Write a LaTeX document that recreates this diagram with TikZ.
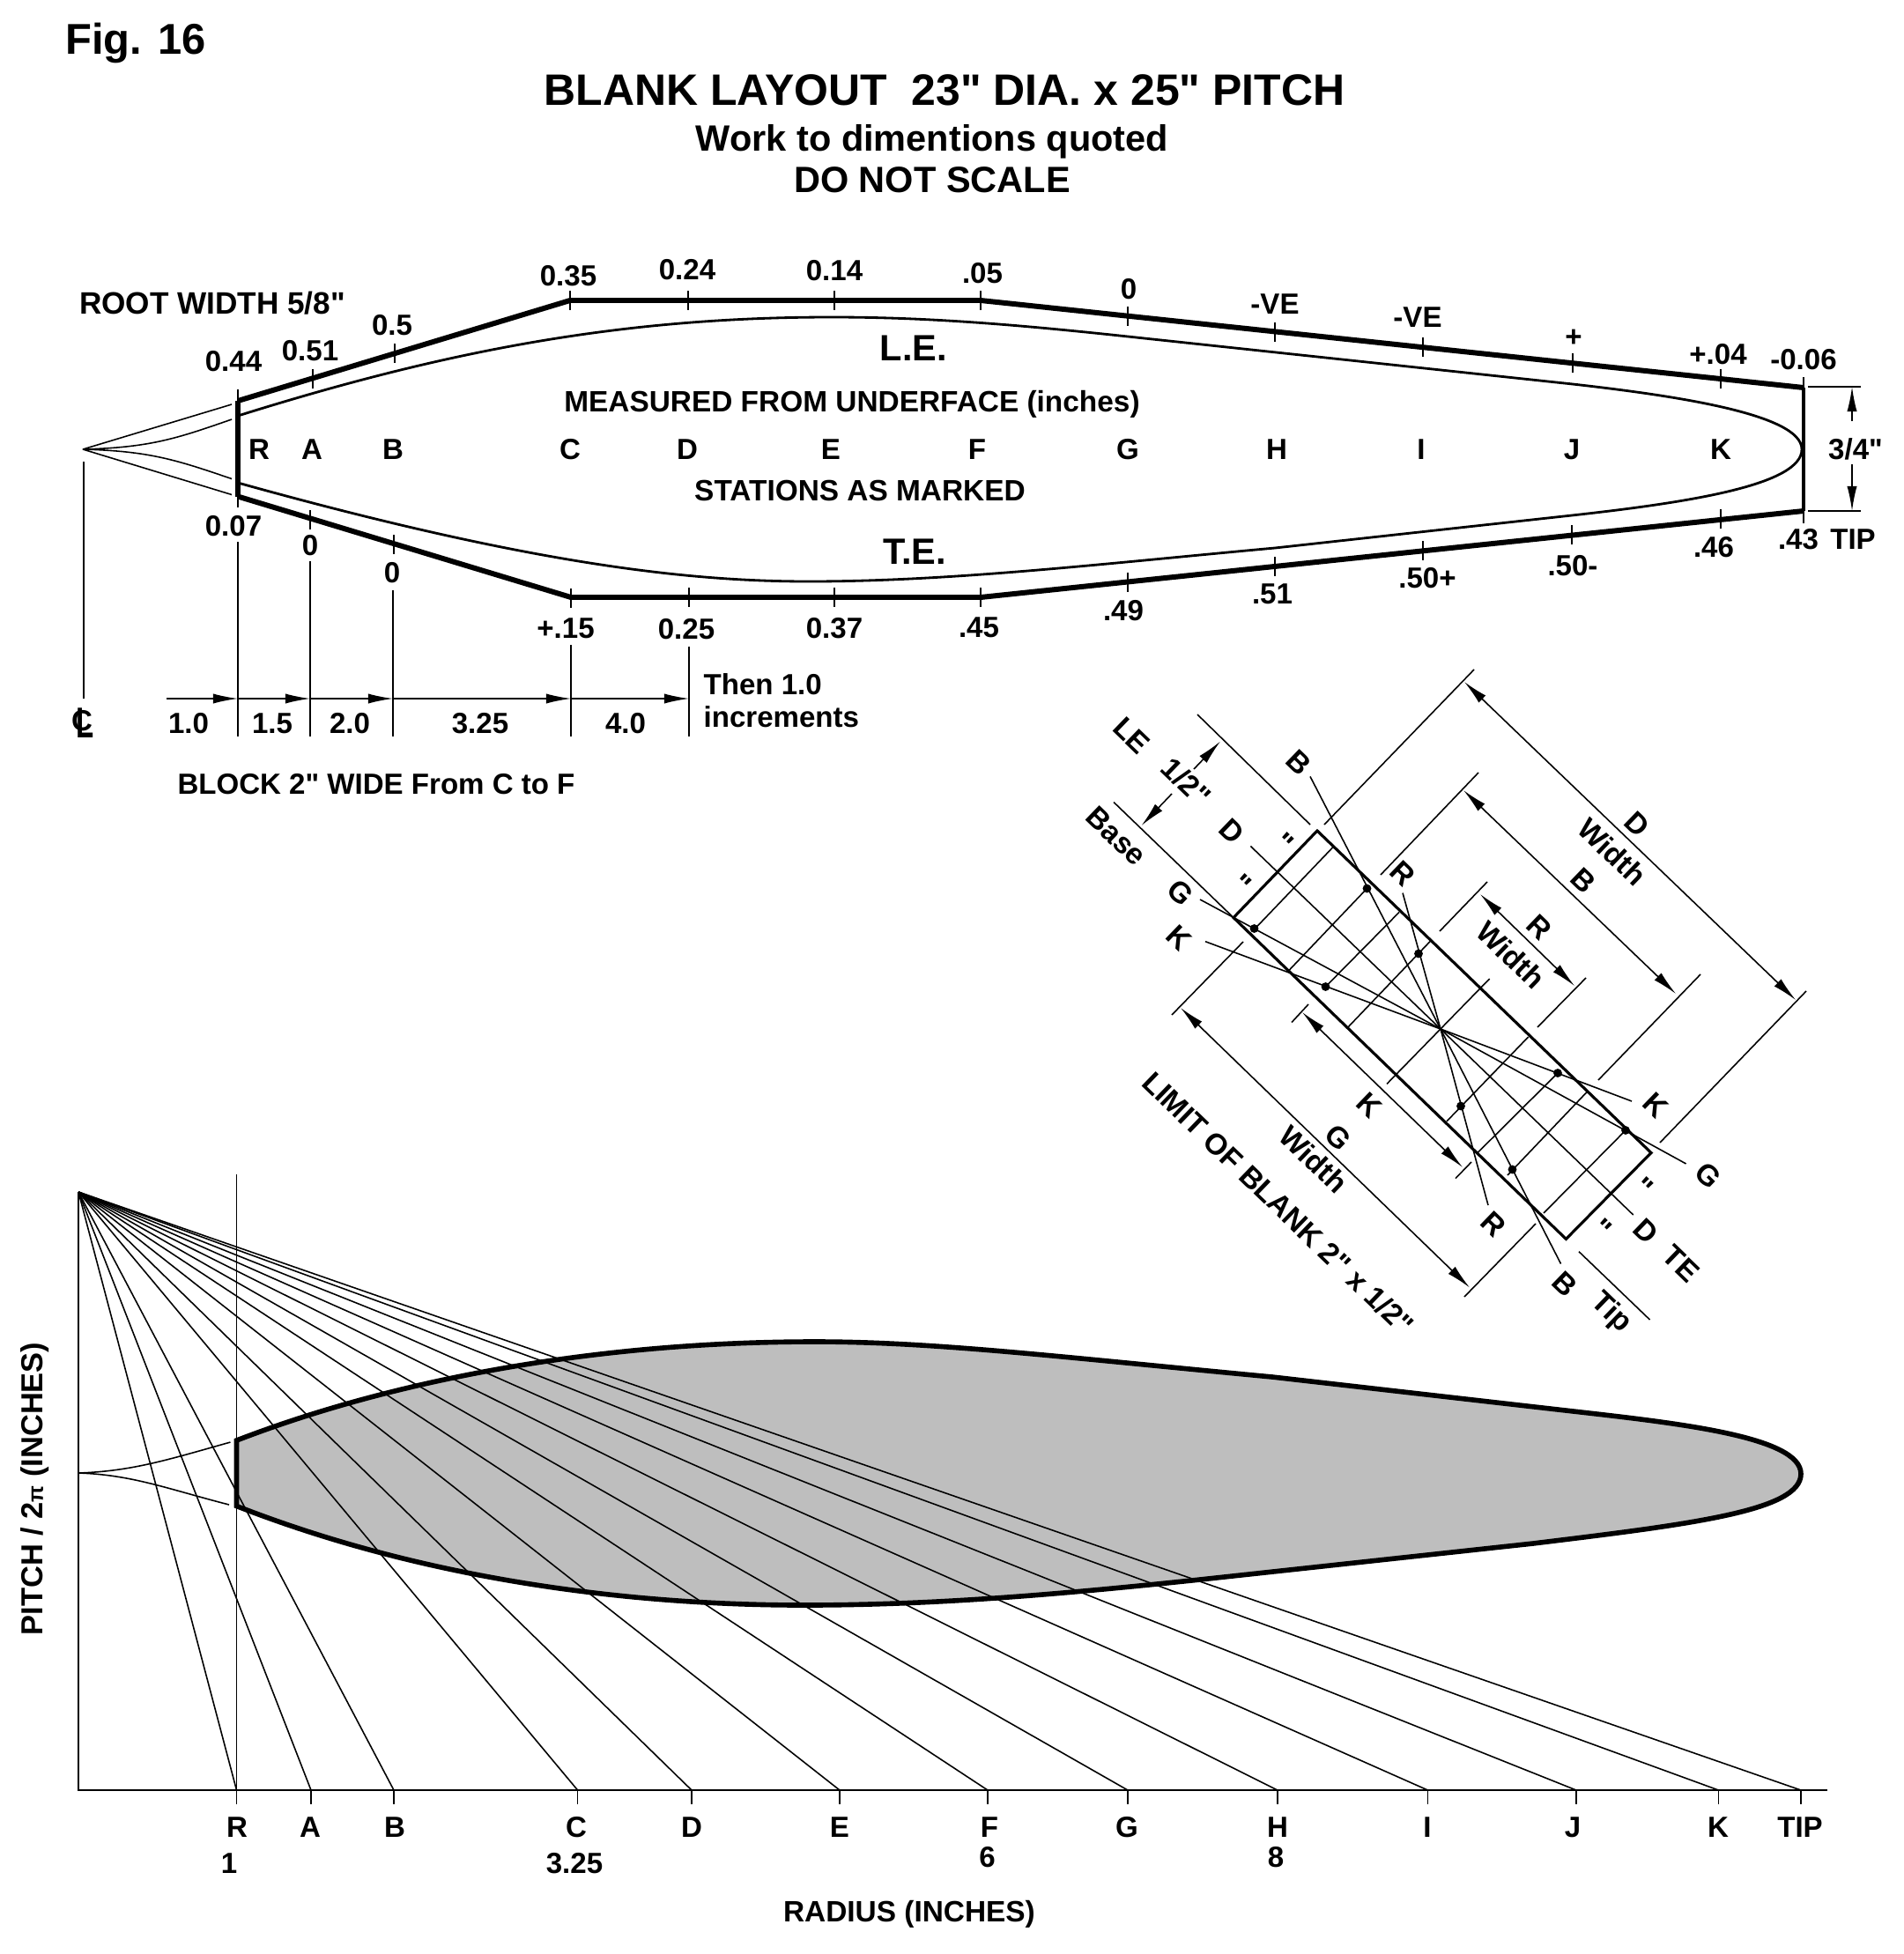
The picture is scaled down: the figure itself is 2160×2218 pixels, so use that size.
\documentclass[tikz,border=0pt]{standalone}
\usepackage{fontspec}
\setmainfont{Liberation Sans}[Ligatures=TeXOff]
\usetikzlibrary{arrows.meta}
\tikzstyle{lab}=[inner sep=0pt, font=\bfseries\fontsize{9.4}{11}\selectfont]
\tikzstyle{note}=[inner sep=0pt, font=\bfseries\fontsize{9.5}{11}\selectfont]
\tikzstyle{rlab}=[note, rotate=-44]
\tikzstyle{big}=[inner sep=0pt, font=\bfseries\fontsize{11.8}{14}\selectfont]
\tikzstyle{thin line}=[line width=0.45pt]
\tikzstyle{tick}=[line width=0.6pt]
\tikzstyle{thick edge}=[line width=1.7pt]
\tikzstyle{dim}=[line width=0.45pt,-{Latex[length=8pt,width=3.2pt]}]
\tikzstyle{dimb}=[line width=0.45pt,{Latex[length=8pt,width=3.2pt]}-{Latex[length=8pt,width=3.2pt]}]
\definecolor{bladegrey}{RGB}{190,190,190}
\newcommand{\pitchblade}{(268.5,1635) .. controls (450,1565) and (680,1523) .. (925,1523) .. controls (1060,1523) and (1200,1540) .. (1444,1563) -- (1777,1601) .. controls (1900,1615) and (2044,1630) .. (2044,1673) .. controls (2044,1715) and (1920,1730) .. (1740,1752) -- (1362,1793) .. controls (1200,1810) and (1060,1822) .. (912,1822) .. controls (740,1822) and (500,1800) .. (268.5,1709.5) -- cycle}
\begin{document}
\begin{tikzpicture}[x=0.01cm,y=-0.01cm]
\useasboundingbox (0,0) rectangle (2160,2218);

% headings
\node[inner sep=0pt,font=\bfseries\fontsize{13.9}{16}\selectfont] at (154,49) (fignum) {Fig. 16};
\node[inner sep=0pt,font=\bfseries\fontsize{14.2}{17}\selectfont] at (1072,102) (title) {BLANK LAYOUT\ \ 23" DIA. x 25" PITCH};
\node[big] at (1058,161) (work) {Work to dimentions quoted};
\node[big] at (1058,204) (noscale) {DO NOT SCALE};

% top blade, developed edges
\draw[thick edge] (270,455) -- (647,341) -- (1113,341) -- (2047,440);
\draw[thick edge] (270,563.5) -- (648,678) -- (1113,678) -- (2047,580);
\draw[thick edge] (270,455) -- (270,563.5);
\draw[line width=1.1pt] (2047,440) -- (2047,580);
\draw[line width=0.8pt] (270,472) .. controls (500,400) and (700,360) .. (944,360) .. controls (1050,360) and (1150,368) .. (1280,382) -- (1785,436) .. controls (1900,449) and (2045,470) .. (2045,510) .. controls (2045,550) and (1920,570) .. (1784,585) -- (1447,622) .. controls (1250,640) and (1080,660) .. (918,660) .. controls (780,660) and (600,640) .. (270,548);
\coordinate (hub) at (94,510);
\draw[thin line] (hub) -- (263,459);
\draw[thin line] (hub) -- (263,561.5);
\draw[thin line] (hub) .. controls (170,508) and (200,498) .. (263,476);
\draw[thin line] (hub) .. controls (170,512) and (200,522) .. (263,543.5);

% station ticks
\foreach \x/\y in {355/430,448/401,647/341,781/341,947/341,1113/341,1280/358.5,1447/376.5,1615/394,1785/412,1953/430}
  \draw[tick] (\x,\y)+(0,-11) -- +(0,11);
\foreach \x/\y in {352/590,447/618,648/679,782/678,947/678,1113/678,1280/660.5,1447/643,1615/625,1784/607,1953/589}
  \draw[tick] (\x,\y)+(0,-11) -- +(0,11);
\draw[tick] (270,442) -- (270,576);
\draw[tick] (2047,428) -- (2047,452);
\draw[tick] (2047,570) -- (2047,594);

% thickness figures
\foreach \x/\y/\t [count=\i] in {265/410/0.44,352/398.5/0.51,445/369.5/0.5,645/313/0.35,780/306/0.24,947/307/0.14,1115/310/.05,1281/328/0,1447/345/-VE,1609/360/-VE,1786/384/+,1950/402/+.04,2047/408/-0.06}
  \node[lab] at (\x,\y) (upper\i) {\t};
\foreach \x/\y/\t [count=\i] in {265/597.5/0.07,352/619.5/0,445/650/0,642/713/+.15,779/714.5/0.25,947/713.6/0.37,1111/712/.45,1275/693/.49,1444/674/.51,1620/656/.50+,1785/642/.50-,1945/621/.46,2041/612/.43,2103/612/TIP}
  \node[lab] at (\x,\y) (lower\i) {\t};
\foreach \x/\t [count=\i] in {294/R,354/A,446/B,647/C,780/D,943/E,1109/F,1280/G,1449/H,1613/I,1784/J,1953/K}
  \node[lab] at (\x,510) (sta\i) {\t};
\node[inner sep=0pt,font=\bfseries\fontsize{10}{11}\selectfont] at (241,344) (rootw) {ROOT WIDTH 5/8"};
\node[big] at (1037,395) (le) {L.E.};
\node[big] at (1038,626) (te) {T.E.};
\node[note] at (967,459) (measured) {MEASURED FROM UNDERFACE (inches)};
\node[note] at (976,557) (marked) {STATIONS AS MARKED};

% tip width
\draw[thin line] (2052,439) -- (2112,439);
\draw[thin line] (2052,580) -- (2112,580);
\node[lab] at (2106,510) (tipw) {3/4"};
\draw[dim] (2102,478) -- (2102,439);
\draw[dim] (2102,527) -- (2102,580);

% spacing along the blade
\draw[thin line] (95,524) -- (95,793);
\node[lab] at (93,818) (clinec) {C};
\node[lab,yscale=1.48] at (97,820.5) (clinel) {L};
\draw[thin line] (270,615) -- (270,836);
\draw[thin line] (352,637) -- (352,836);
\draw[thin line] (446,670) -- (446,836);
\draw[thin line] (648,732) -- (648,836);
\draw[thin line] (782,733.5) -- (782,836);
\draw[dim] (189,793) -- (270,793);
\draw[dim] (270,793) -- (352,793);
\draw[dim] (352,793) -- (446,793);
\draw[dim] (446,793) -- (648,793);
\draw[dim] (648,793) -- (782,793);
\foreach \x/\t [count=\i] in {214/1.0,309/1.5,397/2.0,545/3.25,710/4.0}
  \node[lab] at (\x,821.5) (gap\i) {\t};
\node[lab,anchor=west] at (798,777) (then) {Then 1.0};
\node[lab,anchor=west] at (798,814) (incr) {increments};
\node[lab] at (427,890) (block) {BLOCK 2" WIDE From C to F};

% blank section
\draw[line width=0.9pt] (1495,943) -- (1400,1041.6) -- (1777.4,1406.4) -- (1874,1308.5) -- cycle;
\foreach \ax/\ay/\bx/\by in {1513/961.5/1423.5/1055,1551.5/1008.5/1463.4/1101,1588/1035.5/1504.5/1120,1623/1068.7/1530.3/1165.6,1690.6/1111/1574/1230.4,1734.6/1177/1642/1272.8,1768/1218/1677/1308.5,1801/1239.6/1711/1334,1845/1283/1752/1377}
  \draw[thin line] (\ax,\ay) -- (\bx,\by);
\coordinate (mid) at (1635,1168);
\draw[thin line] (1487,881.4) -- (mid) -- (1771.5,1434.5);
\draw[thin line] (1592,1013.6) -- (mid) -- (1689,1368);
\draw[thin line] (1419.4,960.5) -- (mid) -- (1853.7,1379);
\draw[thin line] (1362,1021) -- (mid) -- (1913.6,1321);
\draw[thin line] (1368,1068.7) -- (mid) -- (1852,1250);
\foreach \x/\y in {1551.5/1008.5,1610/1082.5,1423.5/1054,1504.5/1120,1768/1218,1845/1283,1658/1255.5,1716.5/1327.5}
  \fill (\x,\y) circle[radius=1.4pt];

% extension lines
\draw[thin line] (1264,910.5) -- (1400,1041.6);
\draw[thin line] (1359,811) -- (1487,936);
\draw[thin line] (1792,1420.7) -- (1872.5,1498);
\draw[thin line] (1503,936) -- (1673,760);
\draw[thin line] (1884,1297) -- (2050,1125);
\draw[thin line] (1411,1069) -- (1330,1152);
\draw[thin line] (1743,1389) -- (1662,1472);
\draw[thin line] (1485,1140) -- (1466,1160.5);
\draw[thin line] (1670,1319) -- (1652,1337.6);
\draw[thin line] (1567,993) -- (1678,877);
\draw[thin line] (1814,1226) -- (1930,1106);
\draw[thin line] (1634,1057) -- (1688,1001);
\draw[thin line] (1745,1166) -- (1800,1110);

% widths
\draw[dimb] (1662,774) -- (2038,1135);
\draw[dimb] (1340,1144) -- (1668,1461.5);
\draw[dimb] (1478,1149) -- (1660,1325);
\draw[dimb] (1661,897) -- (1902,1128);
\draw[dimb] (1680,1015) -- (1787,1119);
\draw[dim] (1355,873) -- (1385,841.6);
\draw[dim] (1330,901) -- (1295.6,937);

\foreach \x/\y/\t [count=\i] in {1858/936/D,1830/967/Width,1519/1291/G,1491/1316/Width,1554/1255/K,1797/1000/B,1747.5/1053/R,1715/1084/Width,1346.5/887.5/{1/2"},1474/865.6/B,1398/943.7/D,1339.5/1013.6/G,1338.5/1064.6/K,1592.5/992/R,1879.5/1255/K,1939/1334/G,1695/1390/R,1868/1398/D,1775.7/1457.5/B,1907.7/1434.5/TE,1828.5/1490.6/Tip,1284.5/835/LE,1267/949/Base,1457/956.4/",1409/1004/",1865/1348/",1818.5/1395/"}
  \node[rlab] at (\x,\y) (sec\i) {\t};
\node[rlab] at (1451,1366) (limit) {LIMIT OF BLANK 2" x 1/2"};

% pitch triangle
\fill[bladegrey] \pitchblade;
\coordinate (peak) at (89,1353);
\coordinate (origin) at (89,2032);
\draw[line width=0.5pt] (peak) -- (origin) -- (2074,2032);
\draw[thin line] (268.5,1333) -- (268.5,2048);
\foreach \x in {268.5,353,447,655.6,785,953,1121,1280,1450,1620.5,1789,1950.5,2044} {
  \draw[thin line] (peak) -- (\x,2032);
  \draw[thin line] (\x,2032) -- (\x,2048);
}
\draw[line width=1.6pt] \pitchblade;
\coordinate (midh) at (89,1672);
\draw[thin line] (midh) .. controls (150,1670) and (190,1657) .. (261.5,1637);
\draw[thin line] (midh) .. controls (150,1674) and (190,1690) .. (260,1708);

\foreach \x/\t [count=\i] in {269/R,352/A,448/B,654/C,785/D,953/E,1123/F,1279/G,1450/H,1620/I,1785/J,1950/K,2043/TIP}
  \node[lab] at (\x,2074) (rad\i) {\t};
\node[lab] at (260,2115) (rone) {1};
\node[lab] at (652,2115) (rtwo) {3.25};
\node[lab] at (1120.5,2108) (rsix) {6};
\node[lab] at (1448,2108) (reight) {8};
\node[note] at (1032,2173) (radius) {RADIUS (INCHES)};
\node[inner sep=0pt,rotate=90,font=\bfseries\fontsize{9.8}{11}\selectfont] at (40,1690) (pitch) {PITCH / 2{\fontsize{7}{8}\selectfont π} (INCHES)};
\end{tikzpicture}
\end{document}
